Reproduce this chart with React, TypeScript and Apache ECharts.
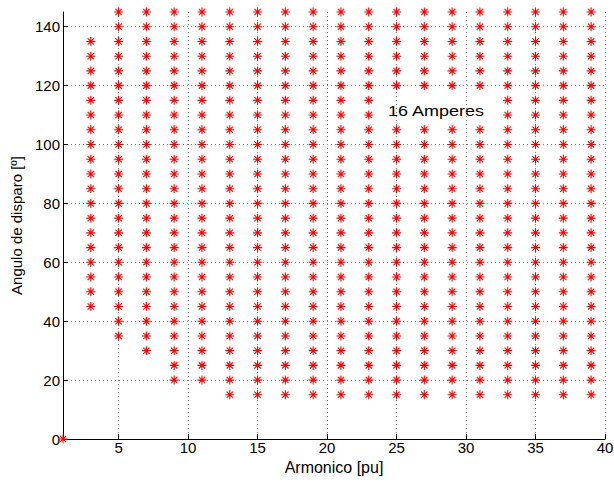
import React, { useEffect, useRef } from "react";
import * as echarts from "echarts";

// Harmonic orders (x) and angle ranges (step 5 degrees)
const harmonics = [3, 5, 7, 9, 11, 13, 15, 17, 19, 21, 23, 25, 27, 29, 31, 33, 35, 37, 39];
const angleMin = [45, 35, 30, 20, 20, 15, 15, 15, 15, 15, 15, 15, 15, 15, 15, 15, 15, 15, 15];
const angleMax = [135, 145, 145, 145, 145, 145, 145, 145, 145, 145, 145, 145, 145, 145, 145, 145, 145, 145, 145];
const angleStep = 5;
// points absent in the picture (harmonic, angle)
const missing: [number, number][] = [
  [25, 110], [25, 115], [27, 110], [27, 115], [29, 110], [29, 115], [31, 110], [31, 115],
];
const extraPoints: [number, number][] = [[1, 0]];

const xTicks = [5, 10, 15, 20, 25, 30, 35, 40];
const yTicks = [0, 20, 40, 60, 80, 100, 120, 140];

const asterisk =
  "path://M0 4.4L10 4.4L10 5.6L0 5.6Z M4.4 0L5.6 0L5.6 10L4.4 10Z M1.1 1.95L1.95 1.1L8.9 8.05L8.05 8.9Z M8.05 1.1L8.9 1.95L1.95 8.9L1.1 8.05Z";

function buildPoints(): [number, number][] {
  const pts: [number, number][] = [...extraPoints];
  harmonics.forEach((h, i) => {
    for (let a = angleMin[i]; a <= angleMax[i]; a += angleStep) {
      if (missing.some(([mh, ma]) => mh === h && ma === a)) continue;
      pts.push([h, a]);
    }
  });
  return pts;
}

export default function App() {
  const ref = useRef<HTMLDivElement>(null);
  useEffect(() => {
    document.body.style.margin = "0";
    const chart = echarts.init(ref.current!, null, { renderer: "svg" });
    const font = "'Liberation Sans', Arial, Helvetica, sans-serif";
    const gridLine = { show: true, lineStyle: { color: "#808080", type: [1, 3] as any, width: 1 } };
    chart.setOption({
      animation: false,
      backgroundColor: "#ffffff",
      grid: { left: 63, right: 9, top: 12, bottom: 46, containLabel: false, outerBoundsMode: "none" },
      xAxis: {
        type: "value",
        min: 1,
        max: 40,
        name: "Armonico [pu]",
        nameLocation: "middle",
        nameGap: 13,
        nameTextStyle: { fontFamily: font, fontSize: 16, color: "#000" },
        axisLine: { show: true, onZero: false, lineStyle: { color: "#000", width: 1 } },
        axisTick: { show: true, inside: true, length: 5, customValues: xTicks, lineStyle: { color: "#000" } },
        axisLabel: { customValues: xTicks, fontFamily: font, fontSize: 15, color: "#000", margin: 1 },
        splitLine: gridLine,
      },
      yAxis: {
        type: "value",
        min: 0,
        max: 145,
        name: "Angulo de disparo [º]",
        nameLocation: "middle",
        nameGap: 37,
        nameTextStyle: { fontFamily: font, fontSize: 15, color: "#000" },
        axisLine: { show: true, onZero: false, lineStyle: { color: "#000", width: 1 } },
        axisTick: { show: true, inside: true, length: 5, customValues: yTicks, lineStyle: { color: "#000" } },
        axisLabel: { customValues: yTicks, fontFamily: font, fontSize: 15, color: "#000", margin: 3 },
        splitLine: gridLine,
      },
      series: [
        {
          type: "scatter",
          data: buildPoints(),
          symbol: asterisk,
          symbolSize: 9,
          clip: false,
          itemStyle: { color: "#ff0000", opacity: 1 },
          z: 3,
        },
      ],
      graphic: [
        {
          type: "text",
          x: 388,
          y: 104,
          scaleX: 1.2,
          style: { text: "16 Amperes", fontFamily: font, fontSize: 15, fill: "#000" },
        },
      ],
    });
    return () => chart.dispose();
  }, []);
  return <div ref={ref} style={{ position: "absolute", left: 0, top: 0, width: 614, height: 485 }} />;
}
